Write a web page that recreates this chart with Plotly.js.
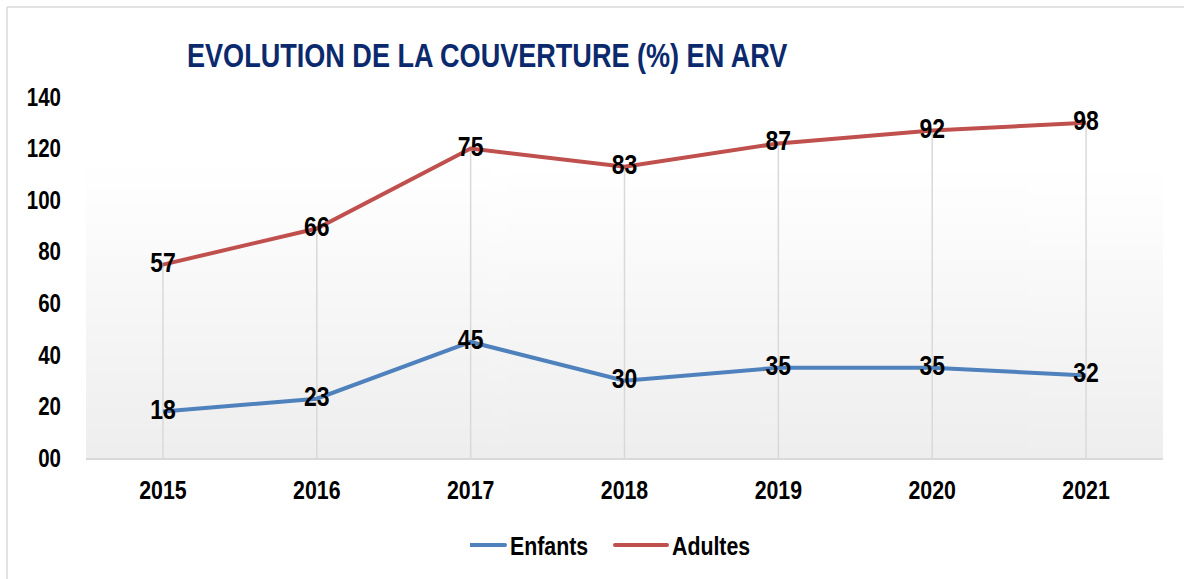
<!DOCTYPE html>
<html>
<head>
<meta charset="utf-8">
<script src="https://cdn.plot.ly/plotly-3.0.1.min.js"></script>
<style>
html,body{margin:0;padding:0;background:#fff;}
#chart{width:1184px;height:579px;}
</style>
</head>
<body>
<div id="chart"></div>
<script>
const years = ["2015","2016","2017","2018","2019","2020","2021"];
const enfants = [18, 23, 45, 30, 35, 35, 32];
const adultes = [57, 66, 75, 83, 87, 92, 98];
const yTickVals = [0, 20, 40, 60, 80, 100, 120, 140];
const yTickText = ["00","20","40","60","80","100","120","140"];

const FONT = "'Liberation Sans', Arial, sans-serif";
const NARROW = 0.82; // Arial Narrow look

// gradient background for the plot area
const cv = document.createElement('canvas');
cv.width = 4; cv.height = 200;
const ctx = cv.getContext('2d');
const g = ctx.createLinearGradient(0, 0, 0, 200);
g.addColorStop(0, '#ffffff');
g.addColorStop(0.2, '#ffffff');
g.addColorStop(1, '#eeeeee');
ctx.fillStyle = g;
ctx.fillRect(0, 0, 4, 200);
const bgURL = cv.toDataURL('image/png');

// drop lines from the top (stacked) series down to the axis
const dropX = [], dropY = [];
years.forEach((yr, i) => {
  dropX.push(yr, yr, null);
  dropY.push(0, enfants[i] + adultes[i], null);
});

const labelFont = {family: FONT, size: 28, color: '#000000', weight: 'bold'};

const traces = [
  {
    x: dropX, y: dropY, type: 'scatter', mode: 'lines',
    line: {color: '#d9d9d9', width: 1.5},
    showlegend: false, hoverinfo: 'skip'
  },
  {
    name: 'Enfants', x: years, y: enfants, type: 'scatter',
    mode: 'lines+text', stackgroup: 'one', fill: 'none',
    text: enfants.map(String), textposition: 'middle center',
    textfont: labelFont,
    line: {color: '#4f81bd', width: 4}
  },
  {
    name: 'Adultes', x: years, y: adultes, type: 'scatter',
    mode: 'lines+text', stackgroup: 'one', fill: 'none',
    text: adultes.map(String), textposition: 'middle center',
    textfont: labelFont,
    line: {color: '#c0504d', width: 4}
  }
];

const layout = {
  width: 1184, height: 579,
  margin: {l: 86, r: 21, t: 97, b: 121, pad: 0},
  paper_bgcolor: '#ffffff',
  plot_bgcolor: 'rgba(0,0,0,0)',
  font: {family: FONT, color: '#000000'},
  title: {
    text: 'EVOLUTION DE LA COUVERTURE (%) EN ARV',
    font: {family: FONT, size: 33, color: '#0b2a6e', weight: 'bold'},
    xref: 'container', yref: 'container',
    x: 187/1184, xanchor: 'left',
    y: 1 - 55/579, yanchor: 'middle'
  },
  xaxis: {
    type: 'category', range: [-0.5, 6.5],
    showgrid: false, zeroline: false,
    showline: true, linecolor: '#d9d9d9', linewidth: 2,
    ticks: '', ticklabelstandoff: 8,
    tickfont: {family: FONT, size: 26, color: '#000', weight: 'bold'}
  },
  yaxis: {
    range: [0, 140], tickvals: yTickVals, ticktext: yTickText,
    showgrid: false, zeroline: false, showline: false,
    ticks: '', ticklabelstandoff: 24,
    tickfont: {family: FONT, size: 25, color: '#000', weight: 'bold'}
  },
  legend: {
    orientation: 'h', x: (470-86)/1077, xanchor: 'left',
    y: 1 - 545/579, yref: 'container', yanchor: 'middle',
    font: {family: FONT, size: 26, color: '#000', weight: 'bold'},
    entrywidth: 117, entrywidthmode: 'pixels', traceorder: 'normal'
  },
  images: [{
    source: bgURL, xref: 'paper', yref: 'paper',
    x: 0, y: 1, sizex: 1, sizey: 1, sizing: 'stretch',
    xanchor: 'left', yanchor: 'top', layer: 'below'
  }],
  shapes: [
    {type: 'line', xref: 'paper', yref: 'paper', x0: -79/1077, x1: 1.03, y0: (579-7-121)/361, y1: (579-7-121)/361,
     line: {color: '#d9d9d9', width: 1.5}},
    {type: 'line', xref: 'paper', yref: 'paper', x0: -79/1077, x1: -79/1077, y0: -121/361, y1: (579-7-121)/361,
     line: {color: '#d9d9d9', width: 1.5}}
  ],
  showlegend: true
};

function restyleSvg(gd) {
  // narrow the bold sans glyphs to the condensed look of the original
  gd.querySelectorAll('svg text').forEach(t => {
    t.removeAttribute('textLength');
    t.removeAttribute('lengthAdjust');
    const w = t.getComputedTextLength();
    if (w > 0) {
      t.setAttribute('textLength', (w * NARROW).toFixed(2));
      t.setAttribute('lengthAdjust', 'spacingAndGlyphs');
    }
  });
  // longer legend line samples, as in the original
  gd.querySelectorAll('[class*="legendlines"] path, path.js-line').forEach(p => {
    if (!p.closest('[class*="legend"]')) return;
    p.setAttribute('d', 'M-17,0h52');
    p.style.strokeLinecap = 'round';
  });
}

const gdEl = document.getElementById('chart');
Plotly.newPlot(gdEl, traces, layout, {displayModeBar: false, staticPlot: true}).then(gd => {
  restyleSvg(gd);
  gd.on('plotly_afterplot', () => restyleSvg(gd));
  setTimeout(() => restyleSvg(gd), 50);
});
</script>
</body>
</html>
